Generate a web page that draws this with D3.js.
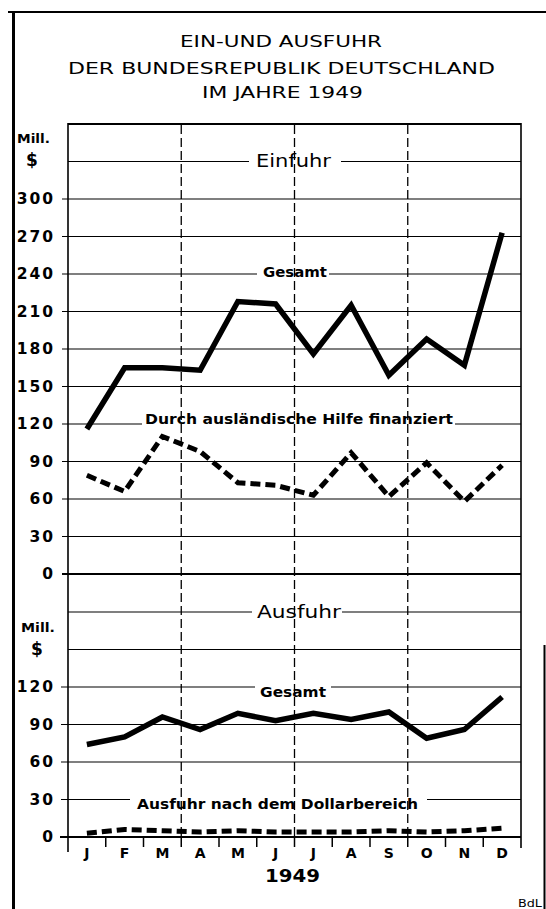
<!DOCTYPE html>
<html><head><meta charset="utf-8">
<script src="https://cdn.jsdelivr.net/npm/d3@7"></script>
<style>html,body{margin:0;padding:0;background:#fff;}svg{display:block;}</style>
</head><body>
<script>
// ---- data ----
const monthLabels = ["J","F","M","A","M","J","J","A","S","O","N","D"];
const importTotal = [116, 165, 165, 163, 218, 216, 176, 215, 159, 188, 167, 273];
const importAid   = [79, 66, 110, 98, 73, 71, 63, 97, 62, 89, 58, 87];
const exportTotal = [74, 80, 96, 86, 99, 93, 99, 94, 100, 79, 86, 112];
const exportDollar= [3, 6, 5, 4, 5, 4, 4, 4, 5, 4, 5, 7];
const topTicks = [0,30,60,90,120,150,180,210,240,270,300];
const topGrid  = [30,60,90,120,150,180,210,240,270,300,330];
const botTicks = [0,30,60,90,120];
const botGrid  = [30,60,90,120,150,180];
const titleLines = ["EIN-UND AUSFUHR","DER BUNDESREPUBLIK DEUTSCHLAND","IM JAHRE 1949"];

const W=546,H=909;
const svg=d3.select("body").append("svg").attr("width",W).attr("height",H);
const L=68,R=521;
const idx=d3.range(12);
const x=d3.scaleBand().domain(idx).range([L,R]);
const cx=i=>x(i)+x.bandwidth()/2;
const yT=d3.scaleLinear().domain([0,360]).range([574,124]);
const yB=d3.scaleLinear().domain([0,210]).range([837,574.5]);
const FONT="DejaVu Sans, sans-serif";

// outer frame
svg.append("line").attr("x1",8).attr("x2",546).attr("y1",12).attr("y2",12).attr("stroke","#000").attr("stroke-width",2.2);
svg.append("line").attr("x1",13.5).attr("x2",13.5).attr("y1",11).attr("y2",909).attr("stroke","#000").attr("stroke-width",3);
svg.append("line").attr("x1",544.5).attr("x2",544.5).attr("y1",645).attr("y2",909).attr("stroke","#000").attr("stroke-width",2);

// title
const tPos=[[180,47,202],[68,74,427],[202,98,161]];
titleLines.forEach((t,i)=>{
  svg.append("text").attr("x",tPos[i][0]).attr("y",tPos[i][1]).attr("textLength",tPos[i][2]).attr("lengthAdjust","spacingAndGlyphs")
   .attr("font-family",FONT).attr("font-size",15).attr("fill","#000").text(t);
});

// horizontal grid
const g=svg.append("g");
topGrid.forEach(v=>{
  const x0 = topTicks.includes(v)?62:L;
  g.append("line").attr("x1",x0).attr("x2",R).attr("y1",yT(v)).attr("y2",yT(v)).attr("stroke","#000").attr("stroke-width",1.1);
});
botGrid.forEach(v=>{
  const x0 = botTicks.includes(v)?61:L;
  g.append("line").attr("x1",x0).attr("x2",R).attr("y1",yB(v)).attr("y2",yB(v)).attr("stroke","#000").attr("stroke-width",1.1);
});
// zero lines
g.append("line").attr("x1",62).attr("x2",R).attr("y1",yT(0)).attr("y2",yT(0)).attr("stroke","#000").attr("stroke-width",2);
g.append("line").attr("x1",60).attr("x2",R).attr("y1",yB(0)).attr("y2",yB(0)).attr("stroke","#000").attr("stroke-width",2);

// gaps for labels on lines
function gap(x1,x2,y){ svg.append("rect").attr("x",x1).attr("y",y-2.5).attr("width",x2-x1).attr("height",5).attr("fill","#fff"); }
gap(249,341,yT(330));
gap(257,329,yT(240));
gap(142,455,yT(120));
gap(252,342,yB(180));
gap(255,331,yB(120));
gap(130,427,yB(30));

// plot frame
svg.append("line").attr("x1",L).attr("x2",R).attr("y1",124).attr("y2",124).attr("stroke","#000").attr("stroke-width",2);
svg.append("line").attr("x1",L).attr("x2",L).attr("y1",123).attr("y2",852).attr("stroke","#000").attr("stroke-width",1.6);
svg.append("line").attr("x1",R).attr("x2",R).attr("y1",123).attr("y2",848).attr("stroke","#000").attr("stroke-width",1.6);

// quarter dashed verticals
[3,6,9].forEach(i=>{
  svg.append("line").attr("x1",x(i)).attr("x2",x(i)).attr("y1",125).attr("y2",837)
    .attr("stroke","#000").attr("stroke-width",1.3).attr("stroke-dasharray","9,4");
});
// month boundary ticks
idx.slice(1).forEach(i=>{
  svg.append("line").attr("x1",x(i)).attr("x2",x(i)).attr("y1",837).attr("y2",847).attr("stroke","#000").attr("stroke-width",1.5);
});

// left axes (labels)
function styleAxis(sel){
  sel.select(".domain").remove();
  sel.selectAll(".tick line").remove();
  sel.selectAll("text").attr("font-family",FONT).attr("font-size",15.5).attr("font-weight","bold")
     .attr("letter-spacing","2px").attr("fill","#000");
}
svg.append("g").attr("transform","translate(62,0)")
  .call(d3.axisLeft(yT).tickValues(topTicks).tickSize(0).tickPadding(7).tickFormat(d3.format("d")))
  .call(styleAxis);
svg.append("g").attr("transform","translate(62,0)")
  .call(d3.axisLeft(yB).tickValues(botTicks).tickSize(0).tickPadding(7).tickFormat(d3.format("d")))
  .call(styleAxis);

// bottom axis (month letters)
svg.append("g").attr("transform","translate(0,845)")
  .call(d3.axisBottom(x).tickSize(0).tickPadding(3).tickFormat(i=>monthLabels[i]))
  .call(s=>{s.select(".domain").remove(); s.selectAll("text").attr("font-family",FONT).attr("font-size",14).attr("font-weight","bold").attr("fill","#000");});

// unit labels
function txt(t,xx,yy,size,weight,len,anchor){
  const e=svg.append("text").attr("x",xx).attr("y",yy).attr("font-family",FONT).attr("font-size",size)
    .attr("font-weight",weight||"normal").attr("fill","#000").attr("text-anchor",anchor||"start").text(t);
  if(len) e.attr("textLength",len).attr("lengthAdjust","spacingAndGlyphs");
  return e;
}
txt("Mill.",17,143,13,"bold",33);
txt("$",32,166,17,"bold",null,"middle");
txt("Mill.",21,632,13,"bold",34);
txt("$",37,655,17,"bold",null,"middle");

// line labels
txt("Einfuhr",256,167,18,"normal",75);
txt("Ausfuhr",257,618,18,"normal",84);
txt("Gesamt",263,277,13.5,"bold",64);
txt("Durch ausländische Hilfe finanziert",145,424,13.5,"bold",308);
txt("Gesamt",260,697,13.5,"bold",66);
txt("Ausfuhr nach dem Dollarbereich",137,809,13.5,"bold",281);
txt("1949",265,882,18,"bold",55);
txt("BdL",518,907,11,"normal",24);

// data lines
function drawLine(data,y,dash,w){
  const line=d3.line().x((d,i)=>cx(i)).y(d=>y(d));
  const p=svg.append("path").datum(data).attr("d",line).attr("fill","none").attr("stroke","#000")
    .attr("stroke-width",w).attr("stroke-linejoin","miter").attr("stroke-miterlimit",3);
  if(dash) p.attr("stroke-dasharray",dash);
}
drawLine(importTotal,yT,null,5.5);
drawLine(importAid,yT,"10,5",5);
drawLine(exportTotal,yB,null,5.5);
drawLine(exportDollar,yB,"10,5",5);
</script>
</body></html>
